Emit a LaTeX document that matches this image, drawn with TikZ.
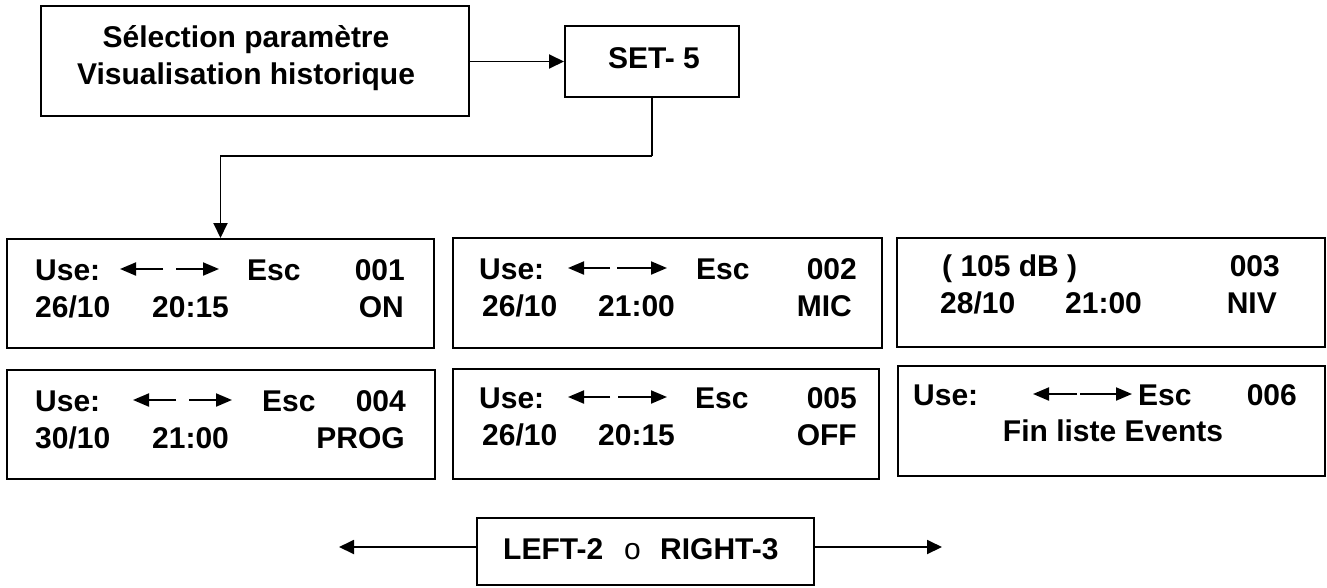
\documentclass[tikz,border=0pt]{standalone}
\usepackage{fontspec}
\setmainfont{Liberation Sans}
\usetikzlibrary{arrows.meta}
\tikzset{
  frame/.style={draw=black, line width=2pt, inner sep=0pt, rectangle},
  txt/.style={inner sep=0pt, font=\bfseries\fontsize{30}{36}\selectfont},
  rtxt/.style={inner sep=0pt, font=\fontsize{30}{36}\selectfont},
  conn/.style={line width=1.9pt, -{Triangle[length=15pt,width=14pt]}},
  plainline/.style={line width=1.9pt},
  keyarrow/.style={line width=2pt, -{Triangle[length=16pt,width=13pt]}}
}
\newcommand\keyarrows[5]{%
  \coordinate (ka1) at (#2,#5); \coordinate (ka2) at (#1,#5);
  \coordinate (ka3) at (#3,#5); \coordinate (ka4) at (#4,#5);
  \draw[keyarrow] (ka1) -- (ka2);
  \draw[keyarrow] (ka3) -- (ka4);}
\begin{document}
\begin{tikzpicture}[x=1pt,y=-1pt]
\useasboundingbox (0,0) rectangle (1327,587);
% boxes
\node[frame, minimum width=428pt, minimum height=110pt] (sel) at (255,61) {};
\node[frame, minimum width=174pt, minimum height=71pt] (set) at (652,61.5) {};
\node[frame, minimum width=427pt, minimum height=109pt] (b1) at (220.5,293.5) {};
\node[frame, minimum width=429pt, minimum height=110pt] (b2) at (667.5,293) {};
\node[frame, minimum width=428pt, minimum height=109pt] (b3) at (1111,292.5) {};
\node[frame, minimum width=428pt, minimum height=109pt] (b4) at (221,424.5) {};
\node[frame, minimum width=426pt, minimum height=110pt] (b5) at (666,424) {};
\node[frame, minimum width=427pt, minimum height=110pt] (b6) at (1111.5,421) {};
\node[frame, minimum width=337pt, minimum height=67pt] (nav) at (645.5,551.5) {};
% top texts
\node[txt, anchor=base] (t1) at (246,47) {Sélection paramètre};
\node[txt, anchor=base] (t2) at (246,84) {Visualisation historique};
\node[txt, anchor=base west] (t3) at (608,68) {SET- 5};
% connectors
\draw[conn] (sel.east |- set.west) -- (set.west);
\draw[plainline] (set.south) -- ++(0,58) coordinate (bend);
\draw[conn] (bend) -| (b1.north);
% box 001
\node[txt, anchor=base west] at (35,280) {Use:};
\keyarrows{120}{163}{176}{219}{269}
\node[txt, anchor=base west] at (247,280) {Esc};
\node[txt, anchor=base east] at (405,280) {001};
\node[txt, anchor=base west] at (35,317) {26/10};
\node[txt, anchor=base west] at (152,317) {20:15};
\node[txt, anchor=base east] at (404,317) {ON};
% box 002
\node[txt, anchor=base west] at (479,279) {Use:};
\keyarrows{568}{610}{617}{667}{268}
\node[txt, anchor=base west] at (696,279) {Esc};
\node[txt, anchor=base east] at (857,279) {002};
\node[txt, anchor=base west] at (482,316) {26/10};
\node[txt, anchor=base west] at (598,316) {21:00};
\node[txt, anchor=base east] at (852,316) {MIC};
% box 003
\node[txt, anchor=base west] at (942,276) {( 105 dB )};
\node[txt, anchor=base east] at (1280,276) {003};
\node[txt, anchor=base west] at (940,313) {28/10};
\node[txt, anchor=base west] at (1065,313) {21:00};
\node[txt, anchor=base east] at (1277,313) {NIV};
% box 004
\node[txt, anchor=base west] at (35,411) {Use:};
\keyarrows{133}{176}{189}{232}{400}
\node[txt, anchor=base west] at (262,411) {Esc};
\node[txt, anchor=base east] at (406,411) {004};
\node[txt, anchor=base west] at (35,448) {30/10};
\node[txt, anchor=base west] at (152,448) {21:00};
\node[txt, anchor=base east] at (405,448) {PROG};
% box 005
\node[txt, anchor=base west] at (479,408) {Use:};
\keyarrows{568}{610}{618}{667}{397}
\node[txt, anchor=base west] at (695,408) {Esc};
\node[txt, anchor=base east] at (857,408) {005};
\node[txt, anchor=base west] at (482,445) {26/10};
\node[txt, anchor=base west] at (598,445) {20:15};
\node[txt, anchor=base east] at (857,445) {OFF};
% box 006
\node[txt, anchor=base west] at (913,405) {Use:};
\keyarrows{1033}{1077}{1080}{1132}{394}
\node[txt, anchor=base west] at (1138,405) {Esc};
\node[txt, anchor=base east] at (1297,405) {006};
\node[txt, anchor=base] at (1113,441) {Fin liste Events};
% navigation box
\node[txt, anchor=base west] at (503,559) {LEFT-2};
\node[rtxt, anchor=base west] at (624,559) {o};
\node[txt, anchor=base west] at (660,559) {RIGHT-3};
\coordinate (navL) at (339,547);
\coordinate (navR) at (942,547);
\draw[conn] (nav.west |- navL) -- (navL);
\draw[conn] (nav.east |- navR) -- (navR);
\end{tikzpicture}
\end{document}
